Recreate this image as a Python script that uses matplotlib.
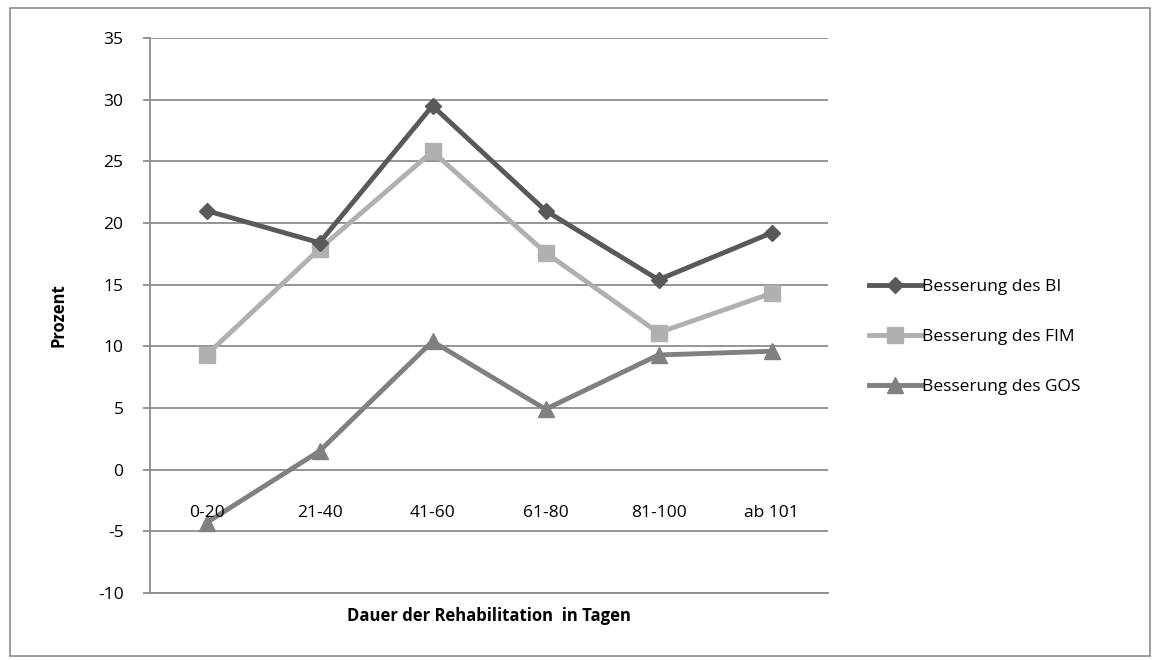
import matplotlib.pyplot as plt
from matplotlib.patches import Rectangle

plt.rcParams['font.family'] = ['Open Sans', 'DejaVu Sans']

categories = ['0-20', '21-40', '41-60', '61-80', '81-100', 'ab 101']
bi = [21.0, 18.4, 29.5, 21.0, 15.4, 19.2]
fim = [9.3, 17.9, 25.8, 17.6, 11.1, 14.3]
gos = [-4.3, 1.5, 10.4, 4.9, 9.3, 9.6]
y_ticks = list(range(-10, 40, 5))

fig = plt.figure(figsize=(11.56, 6.6), dpi=100)
fig.patches.append(Rectangle((10 / 1156, 4 / 660), 1140 / 1156, 648 / 660,
                             transform=fig.transFigure, fill=False,
                             edgecolor='#8c8c8c', linewidth=1.2))

ax = fig.add_axes([150 / 1156, 67 / 660, 678 / 1156, 555 / 660])
x = list(range(len(categories)))

ax.plot(x, bi, color='#595959', linewidth=3.5, marker='D', markersize=8,
        label='Besserung des BI', zorder=5)
ax.plot(x, fim, color='#b0b0b0', linewidth=3.5, marker='s', markersize=11,
        label='Besserung des FIM', zorder=4)
ax.plot(x, gos, color='#808080', linewidth=3.5, marker='^', markersize=11,
        label='Besserung des GOS', zorder=3)

ax.set_xlim(-0.5, len(categories) - 0.5)
ax.set_ylim(-10, 35)
ax.set_yticks(y_ticks)
ax.set_yticklabels([str(v) for v in y_ticks], fontsize=12.5)
ax.yaxis.grid(True, color='#8c8c8c', linewidth=1.3)
ax.set_axisbelow(True)
ax.tick_params(axis='y', length=5, width=1.3, color='#8c8c8c', pad=14)
ax.set_xticks([])
for side in ['top', 'right']:
    ax.spines[side].set_visible(False)
for side in ['left', 'bottom']:
    ax.spines[side].set_color('#8c8c8c')
    ax.spines[side].set_linewidth(1.3)

# category labels sit just below the zero line, like in Excel
for xi, lab in zip(x, categories):
    ax.text(xi, -3.5, lab, ha='center', va='center', fontsize=12.5)

ax.set_ylabel('Prozent', fontsize=12, fontweight='bold', labelpad=22)
ax.set_xlabel('Dauer der Rehabilitation  in Tagen', fontsize=12,
              fontweight='bold', labelpad=10)

fig.legend(loc='center left', bbox_to_anchor=(853 / 1156, 1 - 337 / 660),
           frameon=False, fontsize=12.5, handlelength=3.0, handletextpad=0.1,
           labelspacing=1.95)

plt.savefig('out.png', dpi=100)
